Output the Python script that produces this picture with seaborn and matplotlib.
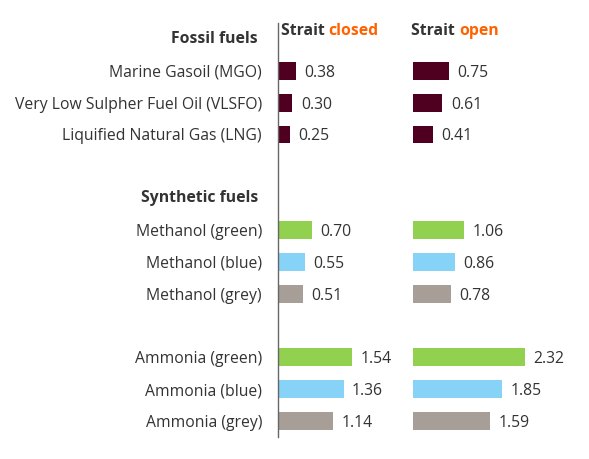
import matplotlib
matplotlib.use("Agg")
import matplotlib.pyplot as plt
import matplotlib.transforms as mtransforms
import seaborn as sns
import pandas as pd

# ---- data ----
group_titles = ["Fossil fuels", "Synthetic fuels", None]
fuels = [
    ["Marine Gasoil (MGO)", "Very Low Sulpher Fuel Oil (VLSFO)", "Liquified Natural Gas (LNG)"],
    ["Methanol (green)", "Methanol (blue)", "Methanol (grey)"],
    ["Ammonia (green)", "Ammonia (blue)", "Ammonia (grey)"],
]
kinds = [
    ["fossil", "fossil", "fossil"],
    ["green", "blue", "grey"],
    ["green", "blue", "grey"],
]
closed_vals = [[0.38, 0.30, 0.25], [0.70, 0.55, 0.51], [1.54, 1.36, 1.14]]
open_vals = [[0.75, 0.61, 0.41], [1.06, 0.86, 0.78], [2.32, 1.85, 1.59]]
panel_titles = [("Strait ", "closed"), ("Strait ", "open")]

palette = {"fossil": "#4F0020", "green": "#92D050", "blue": "#87D3F8", "grey": "#A79F97"}
TEXT = "#333333"
ORANGE = "#FF6200"
FS = 11.3

# build table with row positions (header rows and gaps leave empty slots)
rows = []
headers = []
pos = 0
for gi, title in enumerate(group_titles):
    if title is not None:
        headers.append((pos, title))
        pos += 1
    for name, kind, c, o in zip(fuels[gi], kinds[gi], closed_vals[gi], open_vals[gi]):
        rows.append(dict(pos=pos, fuel=name, kind=kind, closed=c, open=o))
        pos += 1
    pos += 1  # gap
n_slots = pos - 1
df = pd.DataFrame(rows)

plt.rcParams["font.family"] = ["Open Sans", "DejaVu Sans"]
fig = plt.figure(figsize=(5.89, 4.59), dpi=100)
W, H = 589, 459
PX = 48.3  # pixels per unit
top_px, bot_px = 23, 437
ax_h = (bot_px - top_px) / H
ax_b = (H - bot_px) / H

axL = fig.add_axes([278 / W, ax_b, 135 / W, ax_h])
axR = fig.add_axes([413 / W, ax_b, 176 / W, ax_h])

for ax, col, xmax_px, title in [(axL, "closed", 135, panel_titles[0]), (axR, "open", 176, panel_titles[1])]:
    sns.barplot(data=df, x=col, y="pos", hue="kind", palette=palette, orient="h",
                native_scale=True, dodge=False, width=0.56, legend=False, ax=ax,
                saturation=1, linewidth=0)
    ax.set_xlim(0, xmax_px / PX)
    ax.set_ylim(n_slots - 0.5, -0.5)
    ax.set_xlabel("")
    ax.set_ylabel("")
    ax.set_xticks([])
    for s in ["top", "right", "bottom", "left"]:
        ax.spines[s].set_visible(False)
    for _, r in df.iterrows():
        ax.annotate(f"{r[col]:.2f}", xy=(r[col], r["pos"]), xytext=(6, 0),
                    textcoords="offset points", va="center_baseline", ha="left",
                    fontsize=FS, color=TEXT)
    # panel title
    t = ax.text(0.02 if ax is axL else -0.01, -0.26, title[0],
                transform=mtransforms.blended_transform_factory(ax.transAxes, ax.transData),
                fontsize=FS, fontweight="bold", color=TEXT, va="center", ha="left")
    ax.annotate(title[1], xy=(1, 0), xycoords=t, xytext=(0, 0), textcoords="offset points",
                fontsize=FS, fontweight="bold", color=ORANGE, va="bottom", ha="left")

axL.spines["left"].set_visible(True)
axL.spines["left"].set_color("#666666")
axL.spines["left"].set_linewidth(1)
axL.set_yticks(df["pos"], df["fuel"])
axL.tick_params(axis="y", length=0, pad=11.5, labelsize=FS, labelcolor=TEXT)
axR.set_yticks([])

for p, title in headers:
    axL.annotate(title, xy=(0, p), xycoords=mtransforms.blended_transform_factory(axL.transAxes, axL.transData),
                 xytext=(-14.5, 0), textcoords="offset points", ha="right", va="center",
                 fontsize=FS, fontweight="bold", color=TEXT)

fig.savefig("out.png", dpi=100)
